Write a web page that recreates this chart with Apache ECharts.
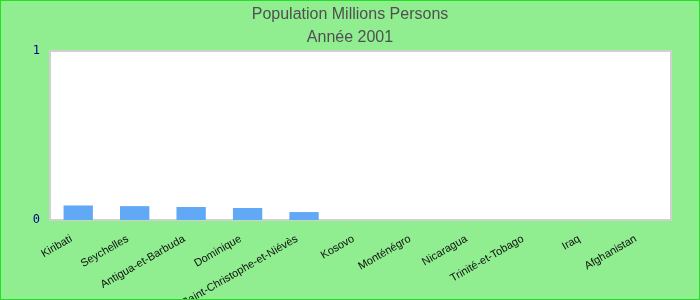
<!DOCTYPE html>
<html><head><meta charset="utf-8">
<script src="https://cdn.jsdelivr.net/npm/echarts@6/dist/echarts.min.js"></script>
<style>html,body{margin:0;padding:0;}#c{width:700px;height:300px;box-sizing:border-box;border:1px solid #22e022;background:#90ee90;}</style>
</head><body><div id="c"></div>
<script>
const categories = ["Kiribati","Seychelles","Antigua-et-Barbuda","Dominique","Saint-Christophe-et-Niévès","Kosovo","Monténégro","Nicaragua","Trinité-et-Tobago","Iraq","Afghanistan"];
const values = [0.086, 0.082, 0.077, 0.071, 0.047, null, null, null, null, null, null];
const yTicks = [0, 1];
const chart = echarts.init(document.getElementById('c'), null, {renderer:'canvas'});
chart.setOption({
  backgroundColor: 'transparent',
  animation: false,
  title: [
    {text: 'Population Millions Persons', left: 'center', top: 1, textStyle: {fontSize: 16, fontWeight: 'normal', color: '#505050', fontFamily: 'Liberation Sans'}},
    {text: 'Année 2001', left: 'center', top: 24, textStyle: {fontSize: 16, fontWeight: 'normal', color: '#505050', fontFamily: 'Liberation Sans'}}
  ],
  grid: {left: 49, right: 28, top: 50, bottom: 79, show: true, backgroundColor: '#fff', borderColor: '#d0d0d0', borderWidth: 2, outerBoundsMode: 'none', containLabel: false},
  xAxis: {
    type: 'category', data: categories,
    axisLine: {show: false}, axisTick: {show: false},
    axisLabel: {interval: 0, rotate: 30, fontSize: 11, color: '#111', fontFamily: 'Liberation Sans', margin: 14, padding: [0, 8, 0, 0]}
  },
  yAxis: {
    type: 'value', min: yTicks[0], max: yTicks[yTicks.length-1], interval: 1,
    splitLine: {show: false}, axisLine: {show: false}, axisTick: {show: false},
    axisLabel: {fontSize: 12, color: '#00008b', fontFamily: 'DejaVu Sans Mono', margin: 10}
  },
  series: [{type: 'bar', data: values, barWidth: '52%', itemStyle: {color: '#62a9f5'}}]
});
</script></body></html>
